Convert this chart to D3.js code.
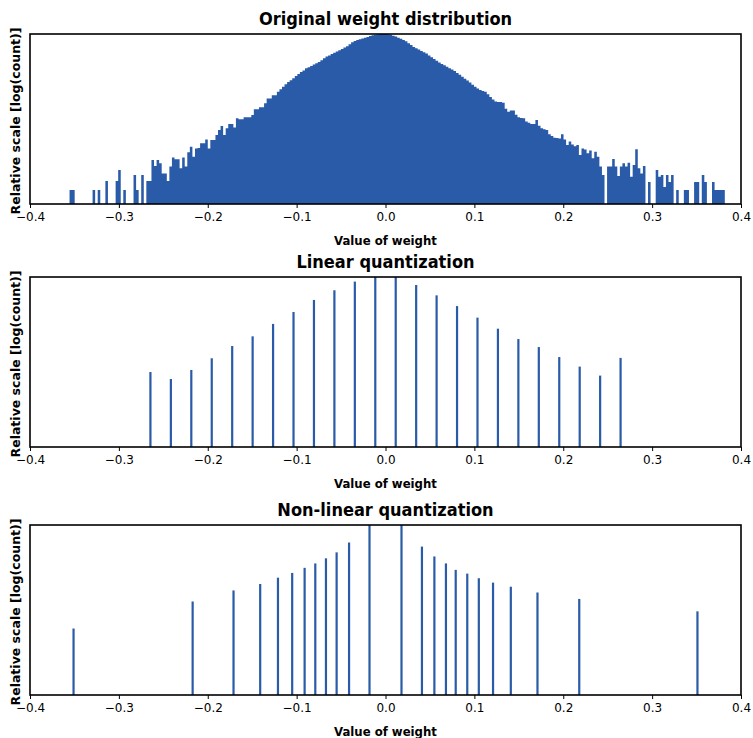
<!DOCTYPE html>
<html>
<head>
<meta charset="utf-8">
<script src="https://cdn.jsdelivr.net/npm/d3@7"></script>
<style>
  body { margin: 0; background: #ffffff; }
  text { font-family: "DejaVu Sans", sans-serif; fill: #000; }
  .title, .xlabel {
    font-family: "DejaVu Sans Condensed", "DejaVu Sans", sans-serif;
    font-stretch: condensed;
    font-weight: bold;
  }
  .ylabel { font-weight: bold; }
</style>
</head>
<body>
<div id="chart"></div>
<script>
// ==============================
// DATA
// ==============================

// shared x ticks
const xTicks = [-0.4, -0.3, -0.2, -0.1, 0.0, 0.1, 0.2, 0.3, 0.4];

// panel titles
const panelTitles = ["Original weight distribution", "Linear quantization", "Non-linear quantization"];

// original histogram: 256 bins, heights on relative log scale (0-100)
const histStart = -0.3555;
const histBinWidth = 0.00288;
const origHeights = [
  8.2, 8.2, 0, 0, 0, 0, 0, 0, 0, 8.2,              // 0
  0, 8.2, 0, 0, 13.5, 0, 0, 0, 13.5, 20,           // 10
  0, 8.2, 0, 0, 0, 17, 8.2, 0, 17, 0,              // 20
  13.5, 13.5, 25.9, 22.4, 25.9, 23.9, 18, 18, 13.5, 22,
  27.3, 26.3, 26.3, 21, 27.3, 22, 30.4, 33.7, 27.8, 32.7,
  33, 35.7, 35.7, 38, 32.7, 37.6, 37.6, 40.6, 43.5, 45.9,
  40.6, 44.5, 47, 47, 45, 50.4, 49.8, 49.8, 51, 51,
  51, 52.4, 55.7, 55.7, 56.9, 56.9, 59.2, 62, 62, 64,
  64, 66, 67.5, 69, 70.5, 71.8, 72.8, 74, 75.3, 76.5,
  77.6, 78.6, 79.8, 80.5, 81.2, 82, 82.8, 83.5, 84.5, 85.7,
  86.7, 87.3, 88.2, 88.9, 89.7, 90.5, 91.2, 92, 92.8, 94,   // 100
  95.2, 95.9, 96.4, 96.9, 97.3, 97.8, 98.3, 98.8, 99.2, 99.5,
  99.8, 100, 100, 100, 99.8, 99.5, 99, 98.5, 97.8, 97.2,
  96.5, 95.7, 94.6, 93.5, 92.4, 91.6, 90.9, 90, 89.2, 88.6,
  87.4, 86.3, 85.3, 84.3, 83.3, 82.4, 81.6, 80.7, 79.8, 79.1,
  78.2, 77, 76, 74.8, 73.7, 72.6, 71.4, 70.2, 69, 67.9,
  67, 66.5, 66, 64.5, 63, 61.5, 60.3, 60, 60, 59.5,
  56, 54.3, 55, 55, 52.5, 51, 50.6, 50.4, 48.5, 47.8,
  47, 47, 49.4, 46, 44.5, 44, 43.5, 41, 40, 39,
  38.8, 38.6, 41, 38, 34.7, 36.7, 35, 34, 34.7, 28.8,
  32.7, 32, 29.8, 31.4, 26.9, 30.8, 27.8, 22, 17, 0,        // 200
  22, 22, 26.5, 22, 16.5, 22, 24, 22, 24.3, 16,
  23, 32.2, 21, 18, 22.4, 0, 13, 0, 0, 20,
  16, 17, 10, 17, 13, 17, 0, 8.2, 0, 0,
  8.2, 8.2, 0, 0, 13, 13, 0, 17, 13, 0,
  0, 13, 8.2, 8.2, 8.2, 8.2
];

// linear quantization levels and heights
const linearLevels = [
  -0.2645, -0.2415, -0.2185, -0.1955, -0.1725, -0.1495, -0.1265, -0.1035,
  -0.0805, -0.0575, -0.0345, -0.0115, 0.0115, 0.0345, 0.0575, 0.0805,
  0.1035, 0.1265, 0.1495, 0.1725, 0.1955, 0.2185, 0.2415, 0.2645
];
const linearHeights = [
  44.1, 40, 45.3, 52.2, 59.4, 65.1, 72.4, 79.4,
  86.5, 92.2, 97.3, 100, 100, 95.3, 89.2, 82.9,
  76.1, 69.6, 63.5, 58.8, 52.9, 47.3, 42, 52.4
];

// non-linear quantization levels and heights
const nonlinearLevels = [
  -0.351, -0.217, -0.171, -0.141, -0.121, -0.105, -0.091, -0.079,
  -0.067, -0.055, -0.041, -0.018, 0.018, 0.041, 0.055, 0.068,
  0.079, 0.092, 0.105, 0.121, 0.141, 0.171, 0.218, 0.351
];
const nonlinearHeights = [
  39.1, 55, 61.5, 65.3, 69, 71.8, 74.8, 77.4,
  80.4, 83.9, 89.7, 100, 100, 87.3, 81.5, 77.4,
  73.6, 71.4, 68.7, 66.1, 63.7, 60.3, 56.5, 49.2
];

// ==============================
// SVG SETUP
// ==============================

const width = 753;
const height = 738;
const barColor = "#2a5ba8";

const plotLeft = 30;
const plotRight = 741;
const panelTops = [34, 277, 525];
const panelHeight = 170;

const svg = d3.select("#chart")
  .append("svg")
  .attr("width", width)
  .attr("height", height);

const x = d3.scaleLinear()
  .domain([-0.4, 0.4])
  .range([plotLeft, plotRight]);

// ==============================
// PANEL HELPER
// ==============================

function drawPanel(index, drawMarks) {
  const top = panelTops[index];
  const bottom = top + panelHeight;

  const y = d3.scaleLinear()
    .domain([0, 100])
    .range([bottom, top]);

  const g = svg.append("g");

  drawMarks(g, y);

  // frame
  g.append("rect")
    .attr("x", plotLeft)
    .attr("y", top)
    .attr("width", plotRight - plotLeft)
    .attr("height", panelHeight)
    .attr("fill", "none")
    .attr("stroke", "#000")
    .attr("stroke-width", 1.6);

  // x axis
  const axis = g.append("g")
    .attr("transform", `translate(0, ${bottom})`)
    .call(d3.axisBottom(x)
      .tickValues(xTicks)
      .tickFormat(d3.format(".1f"))
      .tickSize(4)
      .tickPadding(4));
  axis.select(".domain").remove();
  axis.selectAll(".tick line").attr("stroke", "#000").attr("stroke-width", 1);
  axis.selectAll(".tick text")
    .attr("font-size", 12)
    .attr("font-family", "DejaVu Sans, sans-serif")
    .attr("fill", "#000");

  // title
  g.append("text")
    .attr("class", "title")
    .attr("x", (plotLeft + plotRight) / 2)
    .attr("y", top - 9)
    .attr("text-anchor", "middle")
    .attr("font-size", 18)
    .text(panelTitles[index]);

  // x label
  g.append("text")
    .attr("class", "xlabel")
    .attr("x", (plotLeft + plotRight) / 2)
    .attr("y", bottom + 41)
    .attr("text-anchor", "middle")
    .attr("font-size", 13)
    .text("Value of weight");

  // y label
  g.append("text")
    .attr("class", "ylabel")
    .attr("transform", `translate(20, ${top + panelHeight / 2 + 2}) rotate(-90)`)
    .attr("text-anchor", "middle")
    .attr("font-size", 12.5)
    .text("Relative scale [log(count)]");
}

// ==============================
// PANEL 1: ORIGINAL HISTOGRAM
// ==============================

drawPanel(0, (g, y) => {
  const points = origHeights.map((h, i) => ({ x0: histStart + i * histBinWidth, h: h }));
  points.push({ x0: histStart + origHeights.length * histBinWidth, h: 0 });

  const area = d3.area()
    .curve(d3.curveStepAfter)
    .x(d => x(d.x0))
    .y0(y(0))
    .y1(d => y(d.h));

  g.append("path")
    .datum(points)
    .attr("d", area)
    .attr("fill", barColor);
});

// ==============================
// PANELS 2 & 3: QUANTIZED LEVELS
// ==============================

function drawSpikes(levels, heights) {
  return (g, y) => {
    g.selectAll("rect.spike")
      .data(levels)
      .enter()
      .append("rect")
      .attr("class", "spike")
      .attr("x", d => x(d) - 1.1)
      .attr("width", 2.2)
      .attr("y", (d, i) => y(heights[i]))
      .attr("height", (d, i) => y(0) - y(heights[i]))
      .attr("fill", barColor);
  };
}

drawPanel(1, drawSpikes(linearLevels, linearHeights));
drawPanel(2, drawSpikes(nonlinearLevels, nonlinearHeights));
</script>
</body>
</html>
